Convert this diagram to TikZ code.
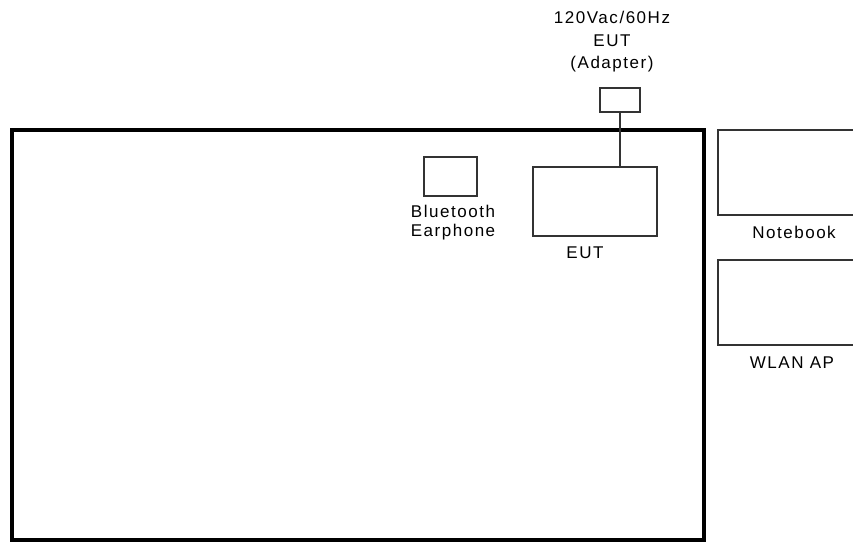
\documentclass[tikz,border=0pt]{standalone}
\usepackage{fontspec}
\setmainfont{Liberation Sans}[LetterSpace=9]
\begin{document}
\begin{tikzpicture}[x=1pt,y=-1pt,
  box/.style={draw=black!80, line width=2pt, inner sep=0pt, fill=white},
  lbl/.style={font=\fontsize{17}{19}\selectfont, inner sep=0pt, align=center},
  wire/.style={draw=black!80, line width=2pt}]
\useasboundingbox (0,0) rectangle (853,543);
\fill[white] (0,0) rectangle (853,543);
% big table outline
\draw[line width=4.5pt, black] (12,130) rectangle (704,540);
% boxes
\node[box, minimum width=40pt, minimum height=24pt] (adapter) at (620,100) {};
\node[box, minimum width=124pt, minimum height=69pt] (eut) at (594.5,201.5) {};
\node[box, minimum width=53pt, minimum height=39pt] (ear) at (450.5,176.5) {};
\node[box, minimum width=160pt, minimum height=85pt] (nb) at (798,172.5) {};
\node[box, minimum width=160pt, minimum height=85pt] (ap) at (798,302.5) {};
% connector
\draw[wire] (adapter.south) -- (adapter.south |- eut.north);
% labels
\node[lbl, font=\fontsize{17}{22.5}\selectfont] (adlbl) at (612,42) {120Vac/60Hz\\EUT\\(Adapter)};
\node[lbl] (earlbl) at (453,222.5) {Bluetooth\\Earphone};
\node[lbl] (eutlbl) at (585,253) {EUT};
\node[lbl] (nblbl) at (794,232) {Notebook};
\node[lbl] (aplbl) at (792,363) {WLAN AP};
\end{tikzpicture}
\end{document}
